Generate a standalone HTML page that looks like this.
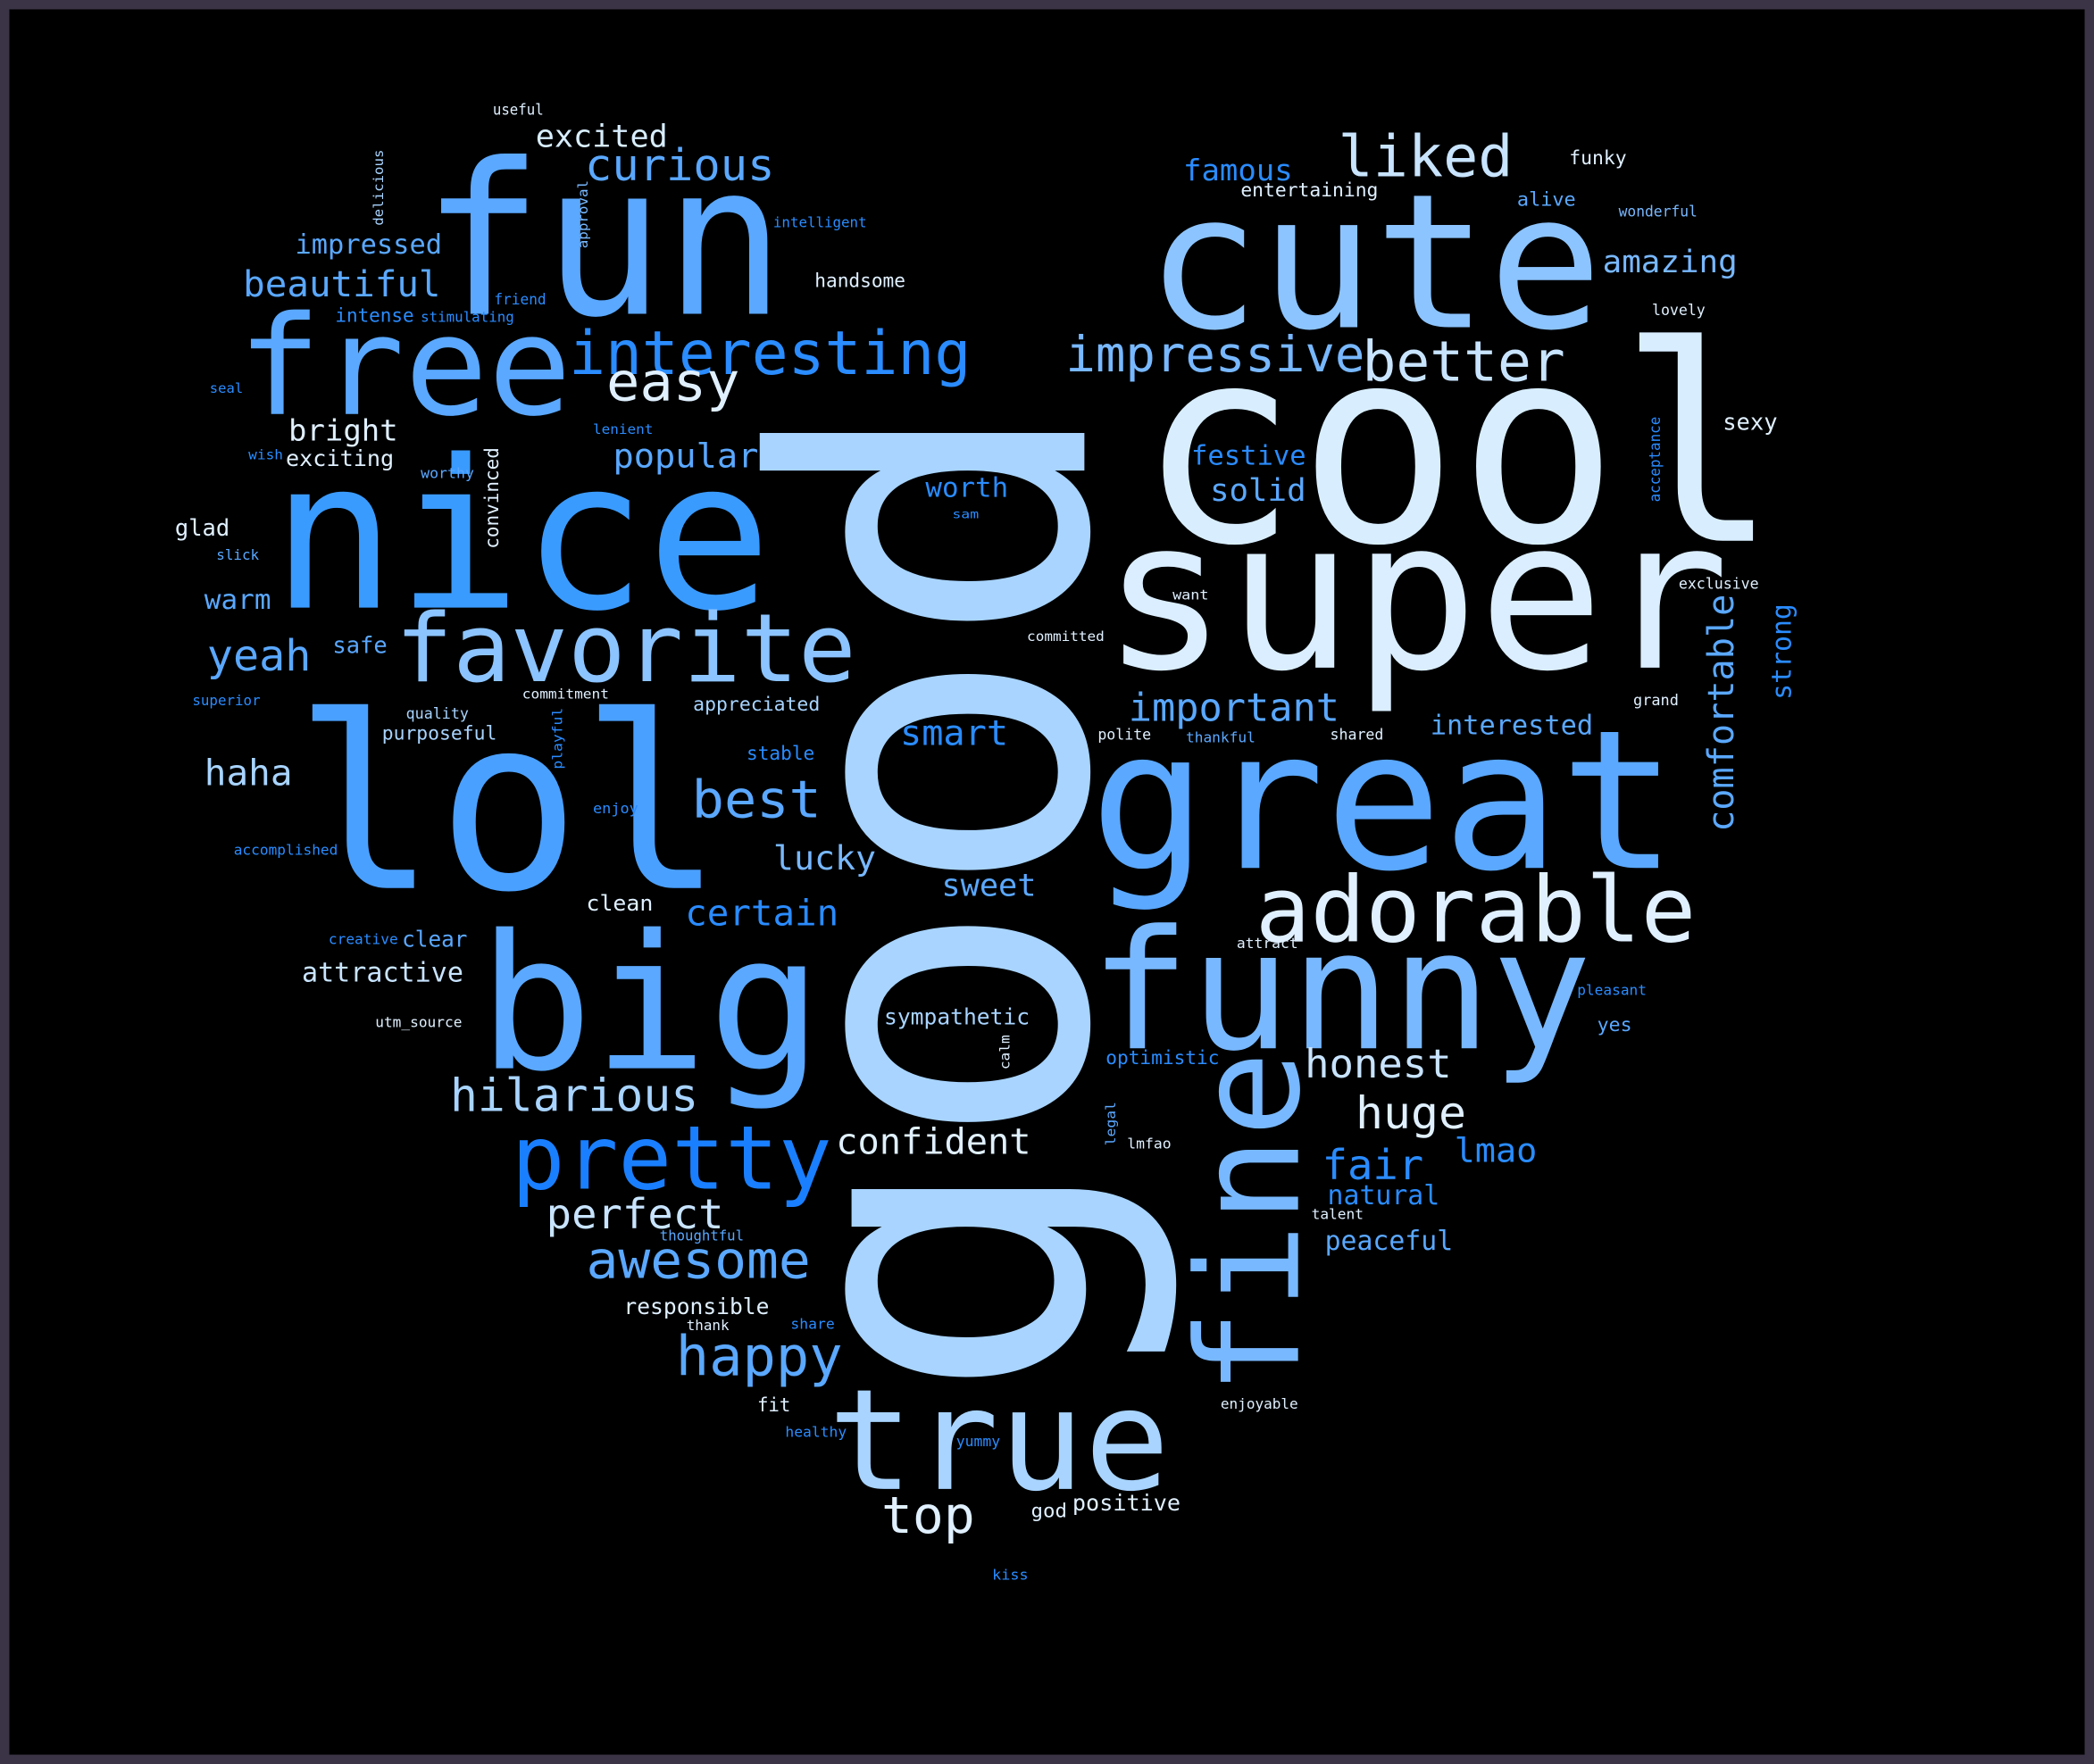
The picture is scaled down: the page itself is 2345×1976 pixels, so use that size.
<!DOCTYPE html>
<html>
<head>
<meta charset="utf-8">
<style>
html,body{margin:0;padding:0;background:#3a3446;}
#wrap{width:2345px;height:1976px;overflow:hidden;}
svg{display:block;}
text{font-family:"DejaVu Sans Mono","Liberation Mono",monospace;}
</style>
</head>
<body>
<div id="wrap">
<svg id="cloud" width="2345" height="1976" viewBox="0 0 1568 1321" preserveAspectRatio="none" xmlns="http://www.w3.org/2000/svg">
<rect x="0" y="0" width="1568" height="1321" fill="#3a3446"/>
<rect x="7" y="7" width="1554" height="1307" fill="#000"/>
<g id="words"></g>
</svg>
</div>
<script>
const words = ["good","cool","super","cute","fun","free","nice","lol","big","great","funny","adorable","favorite","interesting","pretty","true","fine","liked","impressive","better","curious","easy","excited","impressed","beautiful","famous","entertaining","funky","alive","wonderful","amazing","lovely","sexy","acceptance","exclusive","strong","comfortable","grand","interested","important","festive","solid","worth","sam","want","committed","smart","polite","thankful","shared","popular","lenient","handsome","intelligent","approval","delicious","useful","friend","intense","stimulating","seal","bright","wish","exciting","worthy","convinced","glad","slick","warm","safe","yeah","superior","quality","commitment","appreciated","purposeful","playful","stable","haha","best","enjoy","accomplished","lucky","sweet","certain","clean","creative","clear","attractive","attract","pleasant","yes","utm_source","sympathetic","calm","optimistic","honest","hilarious","huge","legal","lmfao","confident","lmao","fair","natural","talent","perfect","thoughtful","peaceful","awesome","responsible","thank","share","happy","fit","enjoyable","healthy","yummy","top","god","positive","kiss"];
const sizes = [320,204,156,140,158,103,155,180,140,145,124,68,71,45,66,105,106,43,37,41.5,33,40,23,20,27,22,14,14,14,11,23.5,11,17,11,11,20,27,11,20,29,20,23,20,9,10,10,26,11,10.5,11,25,10,14,10.5,10,10,11,11,14,10.5,10,22,10,16.5,10.5,14,17,10.5,20,17,32,10.5,11,10,14,14,10,14,27,39,10.5,10.5,25,23,27,16,10.5,16.5,20,10.5,10.5,14,10.5,16.5,10,14,30,34,33.5,10,10.5,26.5,25,31,20,10.5,31,10.5,20,39,16.5,10.5,10.5,41,14,10.5,10.5,10.5,38,14,16.5,10.5];
const xs = [812,852,825,858,316,178,203,220,358,816,816,940,296,426,383,620,972,1002,798,1020,438,454,401,221,182,886,929,1175,1136,1212,1200,1237,1290,1243,1257,1341,1298,1223,1071,845,892,906,693,713,878,769,674,822,888,996,459,444,610,579,440,287,369,370,251,315,157,216,186,214,315,373,131,162,153,249,155,144,304,391,519,286,421,559,153,518,444,175,579,705,513,439,246,301,226,926,1181,1196,281,662,756,828,977,337,1015,835,844,626,1089,990,994,982,409,494,992,439,467,514,592,506,567,914,588,716,660,772,803,743];
const ys = [1050,405,500,245,235,310,455,665,800,650,785,705,510,280,890,1115,1045,132,278,285,135,300,110,190,222,135,147,123,154,162,204,236,322,376,441,524,623,528,550,540,348,375,372,388,449,480,558,554,556,554,350,325,215,170,186,169,86,228,241,241,294,330,344,349,358,411,401,419,456,489,502,528,538,523,532,554,576,569,588,612,609,640,651,671,693,682,707,709,735,710,745,772,769,767,801,797,807,832,845,858,860,864,870,883,902,913,920,929,936,957,984,996,995,1030,1057,1055,1076,1083,1148,1136,1131,1183];
const lens = [755,480,470,342,272,250,375,322,258,440,376,330,345,301,240,256,258,131,224,152,142,100,99,110,148,82,103,43,44,59,101,40,41,64,60,72,178,34,122,158,86,72,62,20,27,58,81,40,52,40,109,45,68,70,51,57,38,39,59,70,25,82,26,81,40,76,41,32,50,41,78,51,47,65,95,86,46,51,66,97,34,78,77,71,115,50,52,49,121,46,52,26,65,109,26,85,110,186,83,33,33,146,62,76,84,39,133,63,96,168,109,32,33,125,25,58,46,33,70,27,81,27];
const colors = ["#a8d4ff","#d8eeff","#daeeff","#8cc4ff","#5aa8ff","#5aa8ff","#3a9bff","#4aa0ff","#5aa8ff","#5aa8ff","#78b8ff","#e0f0ff","#8cc4ff","#2a8cff","#1a7fff","#a8d4ff","#78b8ff","#c8e4ff","#78b8ff","#c8e4ff","#5aa8ff","#e0f0ff","#d8eeff","#5aa8ff","#5aa8ff","#2a8cff","#e0f0ff","#e0f0ff","#5aa8ff","#78b8ff","#78b8ff","#e0f0ff","#e0f0ff","#2a8cff","#e0f0ff","#2a8cff","#5aa8ff","#e0f0ff","#5aa8ff","#5aa8ff","#2a8cff","#5aa8ff","#2a8cff","#2a8cff","#e0f0ff","#e0f0ff","#2a8cff","#e0f0ff","#5aa8ff","#e0f0ff","#5aa8ff","#2a8cff","#e0f0ff","#2a8cff","#78b8ff","#a8d4ff","#e0f0ff","#2a8cff","#2a8cff","#2a8cff","#2a8cff","#e0f0ff","#2a8cff","#e0f0ff","#5aa8ff","#e0f0ff","#e0f0ff","#5aa8ff","#5aa8ff","#5aa8ff","#5aa8ff","#2a8cff","#a8d4ff","#e0f0ff","#a8d4ff","#a8d4ff","#2a8cff","#2a8cff","#a8d4ff","#5aa8ff","#2a8cff","#2a8cff","#78b8ff","#5aa8ff","#2a8cff","#e0f0ff","#2a8cff","#5aa8ff","#c8e4ff","#e0f0ff","#2a8cff","#5aa8ff","#e0f0ff","#a8d4ff","#e0f0ff","#2a8cff","#c8e4ff","#a8d4ff","#e0f0ff","#5aa8ff","#e0f0ff","#e0f0ff","#2a8cff","#2a8cff","#2a8cff","#e0f0ff","#c8e4ff","#5aa8ff","#5aa8ff","#5aa8ff","#e0f0ff","#e0f0ff","#2a8cff","#5aa8ff","#e0f0ff","#e0f0ff","#2a8cff","#2a8cff","#e0f0ff","#e0f0ff","#e0f0ff","#2a8cff"];
const rotated = ["good","fine","acceptance","strong","comfortable","approval","delicious","convinced","playful","calm","legal"];

const g = document.getElementById('words');
const NS = 'http://www.w3.org/2000/svg';
for (let i = 0; i < words.length; i++) {
  const t = document.createElementNS(NS, 'text');
  
  
  t.textContent = words[i];
  t.setAttribute('font-size', sizes[i]);
  t.setAttribute('fill', colors[i]);
  t.setAttribute('textLength', lens[i]);
  t.setAttribute('lengthAdjust', 'spacingAndGlyphs');
  if (rotated.includes(words[i])) {
    t.setAttribute('x', 0);
    t.setAttribute('y', 0);
    t.setAttribute('transform', 'translate(' + xs[i] + ',' + ys[i] + ') rotate(-90)');
  } else {
    t.setAttribute('x', xs[i]);
    t.setAttribute('y', ys[i]);
  }
  g.appendChild(t);
}
</script>
</body>
</html>
